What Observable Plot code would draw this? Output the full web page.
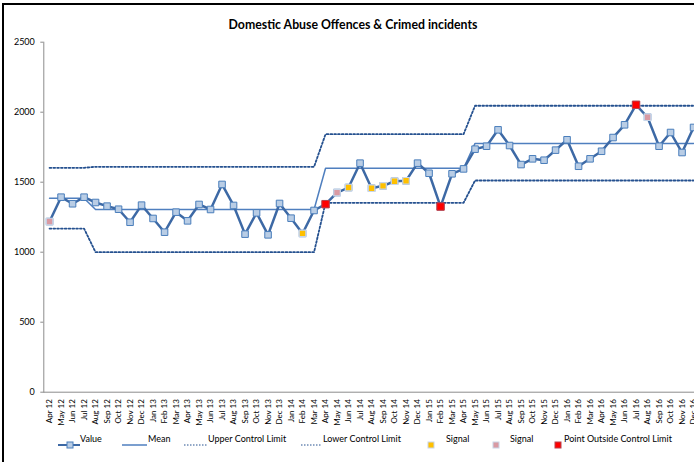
<!DOCTYPE html>
<html>
<head>
<meta charset="utf-8">
<script src="https://cdn.jsdelivr.net/npm/d3@7"></script>
<script src="https://cdn.jsdelivr.net/npm/@observablehq/plot@0.6"></script>
<style>
  html, body { margin: 0; padding: 0; background: #fff; overflow: hidden; }
  #wrap { position: relative; width: 694px; height: 462px; overflow: hidden; font-family: Lato, "Open Sans", sans-serif; }
  #frame { position: absolute; left: 2px; top: 3px; width: 900px; height: 700px; border-left: 2px solid #000; border-top: 2px solid #000; }
  #title { position: absolute; left: 0; width: 706px; top: 17px; text-align: center; font-weight: bold; font-size: 12.3px; color: #000; }
  #chart { position: absolute; left: 0; top: 0; }
  .legtext { position: absolute; top: 432px; line-height: 14px; font-size: 9px; color: #000; white-space: nowrap; }
  .legsw { position: absolute; top: 434px; }
</style>
</head>
<body>
<div id="wrap">
  <div id="frame"></div>
  <div id="chart"></div>
  <div id="title">Domestic Abuse Offences &amp; Crimed incidents</div>
</div>
<script>
const months = ["Apr 12","May 12","Jun 12","Jul 12","Aug 12","Sep 12","Oct 12","Nov 12","Dec 12",
  "Jan 13","Feb 13","Mar 13","Apr 13","May 13","Jun 13","Jul 13","Aug 13","Sep 13","Oct 13","Nov 13","Dec 13",
  "Jan 14","Feb 14","Mar 14","Apr 14","May 14","Jun 14","Jul 14","Aug 14","Sep 14","Oct 14","Nov 14","Dec 14",
  "Jan 15","Feb 15","Mar 15","Apr 15","May 15","Jun 15","Jul 15","Aug 15","Sep 15","Oct 15","Nov 15","Dec 15",
  "Jan 16","Feb 16","Mar 16","Apr 16","May 16","Jun 16","Jul 16","Aug 16","Sep 16","Oct 16","Nov 16","Dec 16"];

const values = [1219,1393,1346,1393,1355,1329,1307,1214,1336,
  1241,1143,1286,1224,1341,1305,1484,1334,1129,1281,1124,1348,
  1243,1134,1298,1343,1426,1462,1636,1457,1474,1507,1510,1636,
  1564,1326,1560,1595,1736,1757,1874,1762,1626,1667,1657,1729,
  1803,1614,1667,1721,1819,1910,2053,1964,1757,1855,1712,1891];

// control-chart periods
const periodStart = ["Apr 12","Aug 12","Apr 14","May 15"];
const periodMean  = [1386, 1305, 1600, 1777];
const periodUCL   = [1603, 1610, 1843, 2046];
const periodLCL   = [1169, 1000, 1353, 1512];

const signalYellow = ["Feb 14","Jun 14","Aug 14","Sep 14","Oct 14","Nov 14"];
const signalPink   = ["Apr 12","May 14","Aug 16"];
const outsideLimit = ["Apr 14","Feb 15","Jul 16"];

const yTicks = [0, 500, 1000, 1500, 2000, 2500];
const legendLabels = ["Value","Mean","Upper Control Limit","Lower Control Limit","Signal","Signal","Point Outside Control Limit"];

// build table
const startIdx = periodStart.map(m => months.indexOf(m));
const rows = months.map((m, i) => {
  let p = 0;
  for (let k = 0; k < startIdx.length; k++) if (i >= startIdx[k]) p = k;
  return {i, month: m, value: values[i], mean: periodMean[p], ucl: periodUCL[p], lcl: periodLCL[p]};
});
const pick = list => rows.filter(r => list.includes(r.month));

const lineBlue = "#3D69A5";
const meanBlue = "#4F7FBF";
const limitBlue = "#24508F";
const font = "Lato, 'Open Sans', sans-serif";

const chart = Plot.plot({
  width: 694,
  height: 462,
  marginTop: 41.7,
  marginBottom: 70.3,
  marginLeft: 43.3,
  marginRight: 0,
  x: {type: "linear", domain: [-0.5, months.length - 0.5], range: [43.3, 43.3 + 11.5 * months.length]},
  y: {domain: [0, 2500], range: [391.7, 41.7]},
  style: {fontFamily: font, fontSize: "9px", color: "#000", background: "transparent", overflow: "visible"},
  marks: [
    Plot.frame({anchor: "left", stroke: "#8C8C8C", strokeWidth: 1}),
    Plot.ruleY([0], {stroke: "#8C8C8C", strokeWidth: 1}),
    Plot.axisY({ticks: yTicks, tickSize: 3, tickPadding: 6, tickFormat: d3.format("d"), stroke: "#8C8C8C", fontSize: 9, label: null}),
    Plot.axisX({ticks: d3.range(months.length), tickFormat: i => months[i], tickSize: 0, tickRotate: -90, tickPadding: 7, fontSize: 8, label: null}),
    Plot.line(rows, {x: "i", y: "ucl", stroke: limitBlue, strokeWidth: 1.8, strokeDasharray: "1.8,2"}),
    Plot.line(rows, {x: "i", y: "lcl", stroke: limitBlue, strokeWidth: 1.8, strokeDasharray: "1.8,2"}),
    Plot.line(rows, {x: "i", y: "mean", stroke: meanBlue, strokeWidth: 1.5}),
    Plot.line(rows, {x: "i", y: "value", stroke: lineBlue, strokeWidth: 2.5}),
    Plot.dot(rows, {x: "i", y: "value", symbol: "square", r: 3.7, fill: "#B9CDE5", stroke: "#4A7EBB", strokeWidth: 1}),
    Plot.dot(pick(signalYellow), {x: "i", y: "value", symbol: "square", r: 3.7, fill: "#FFC000", stroke: "#C9D6E8", strokeWidth: 1.2}),
    Plot.dot(pick(signalPink), {x: "i", y: "value", symbol: "square", r: 3.7, fill: "#D99AA3", stroke: "#C9D6E8", strokeWidth: 1.2}),
    Plot.dot(pick(outsideLimit), {x: "i", y: "value", symbol: "square", r: 4.2, fill: "#FF0000", stroke: "#B8404C", strokeWidth: 1})
  ]
});
document.getElementById("chart").appendChild(chart);

// legend
const wrap = document.getElementById("wrap");
const swatches = [
  {left: 58, svg: `<svg width="22" height="10"><line x1="0" y1="5" x2="22" y2="5" stroke="${lineBlue}" stroke-width="2"/><rect x="9" y="2" width="6" height="6" fill="#B9CDE5" stroke="#4A7EBB"/></svg>`},
  {left: 122, svg: `<svg width="25" height="10"><line x1="0" y1="5" x2="25" y2="5" stroke="${meanBlue}" stroke-width="1.5"/></svg>`},
  {left: 184, svg: `<svg width="23" height="10"><line x1="0" y1="5" x2="23" y2="5" stroke="${limitBlue}" stroke-width="1" stroke-dasharray="1.5,1.5"/></svg>`},
  {left: 301, svg: `<svg width="21" height="10"><line x1="0" y1="5" x2="21" y2="5" stroke="${limitBlue}" stroke-width="1" stroke-dasharray="1.5,1.5"/></svg>`},
  {left: 427, svg: `<svg width="8" height="10"><rect x="1" y="2" width="6" height="6" fill="#FFC000" stroke="#C9D6E8"/></svg>`},
  {left: 492, svg: `<svg width="8" height="10"><rect x="1" y="2" width="6" height="6" fill="#D99AA3" stroke="#C9D6E8"/></svg>`},
  {left: 554, svg: `<svg width="8" height="10"><rect x="1" y="2" width="6" height="6" fill="#FF0000" stroke="#B8404C"/></svg>`}
];
const textLeft = [80, 148, 208, 323, 446, 510, 564];
swatches.forEach((s, i) => {
  const sw = document.createElement("div");
  sw.className = "legsw";
  sw.style.left = s.left + "px";
  sw.innerHTML = s.svg;
  wrap.appendChild(sw);
  const t = document.createElement("div");
  t.className = "legtext";
  t.style.left = textLeft[i] + "px";
  t.textContent = legendLabels[i];
  wrap.appendChild(t);
});
</script>
</body>
</html>
